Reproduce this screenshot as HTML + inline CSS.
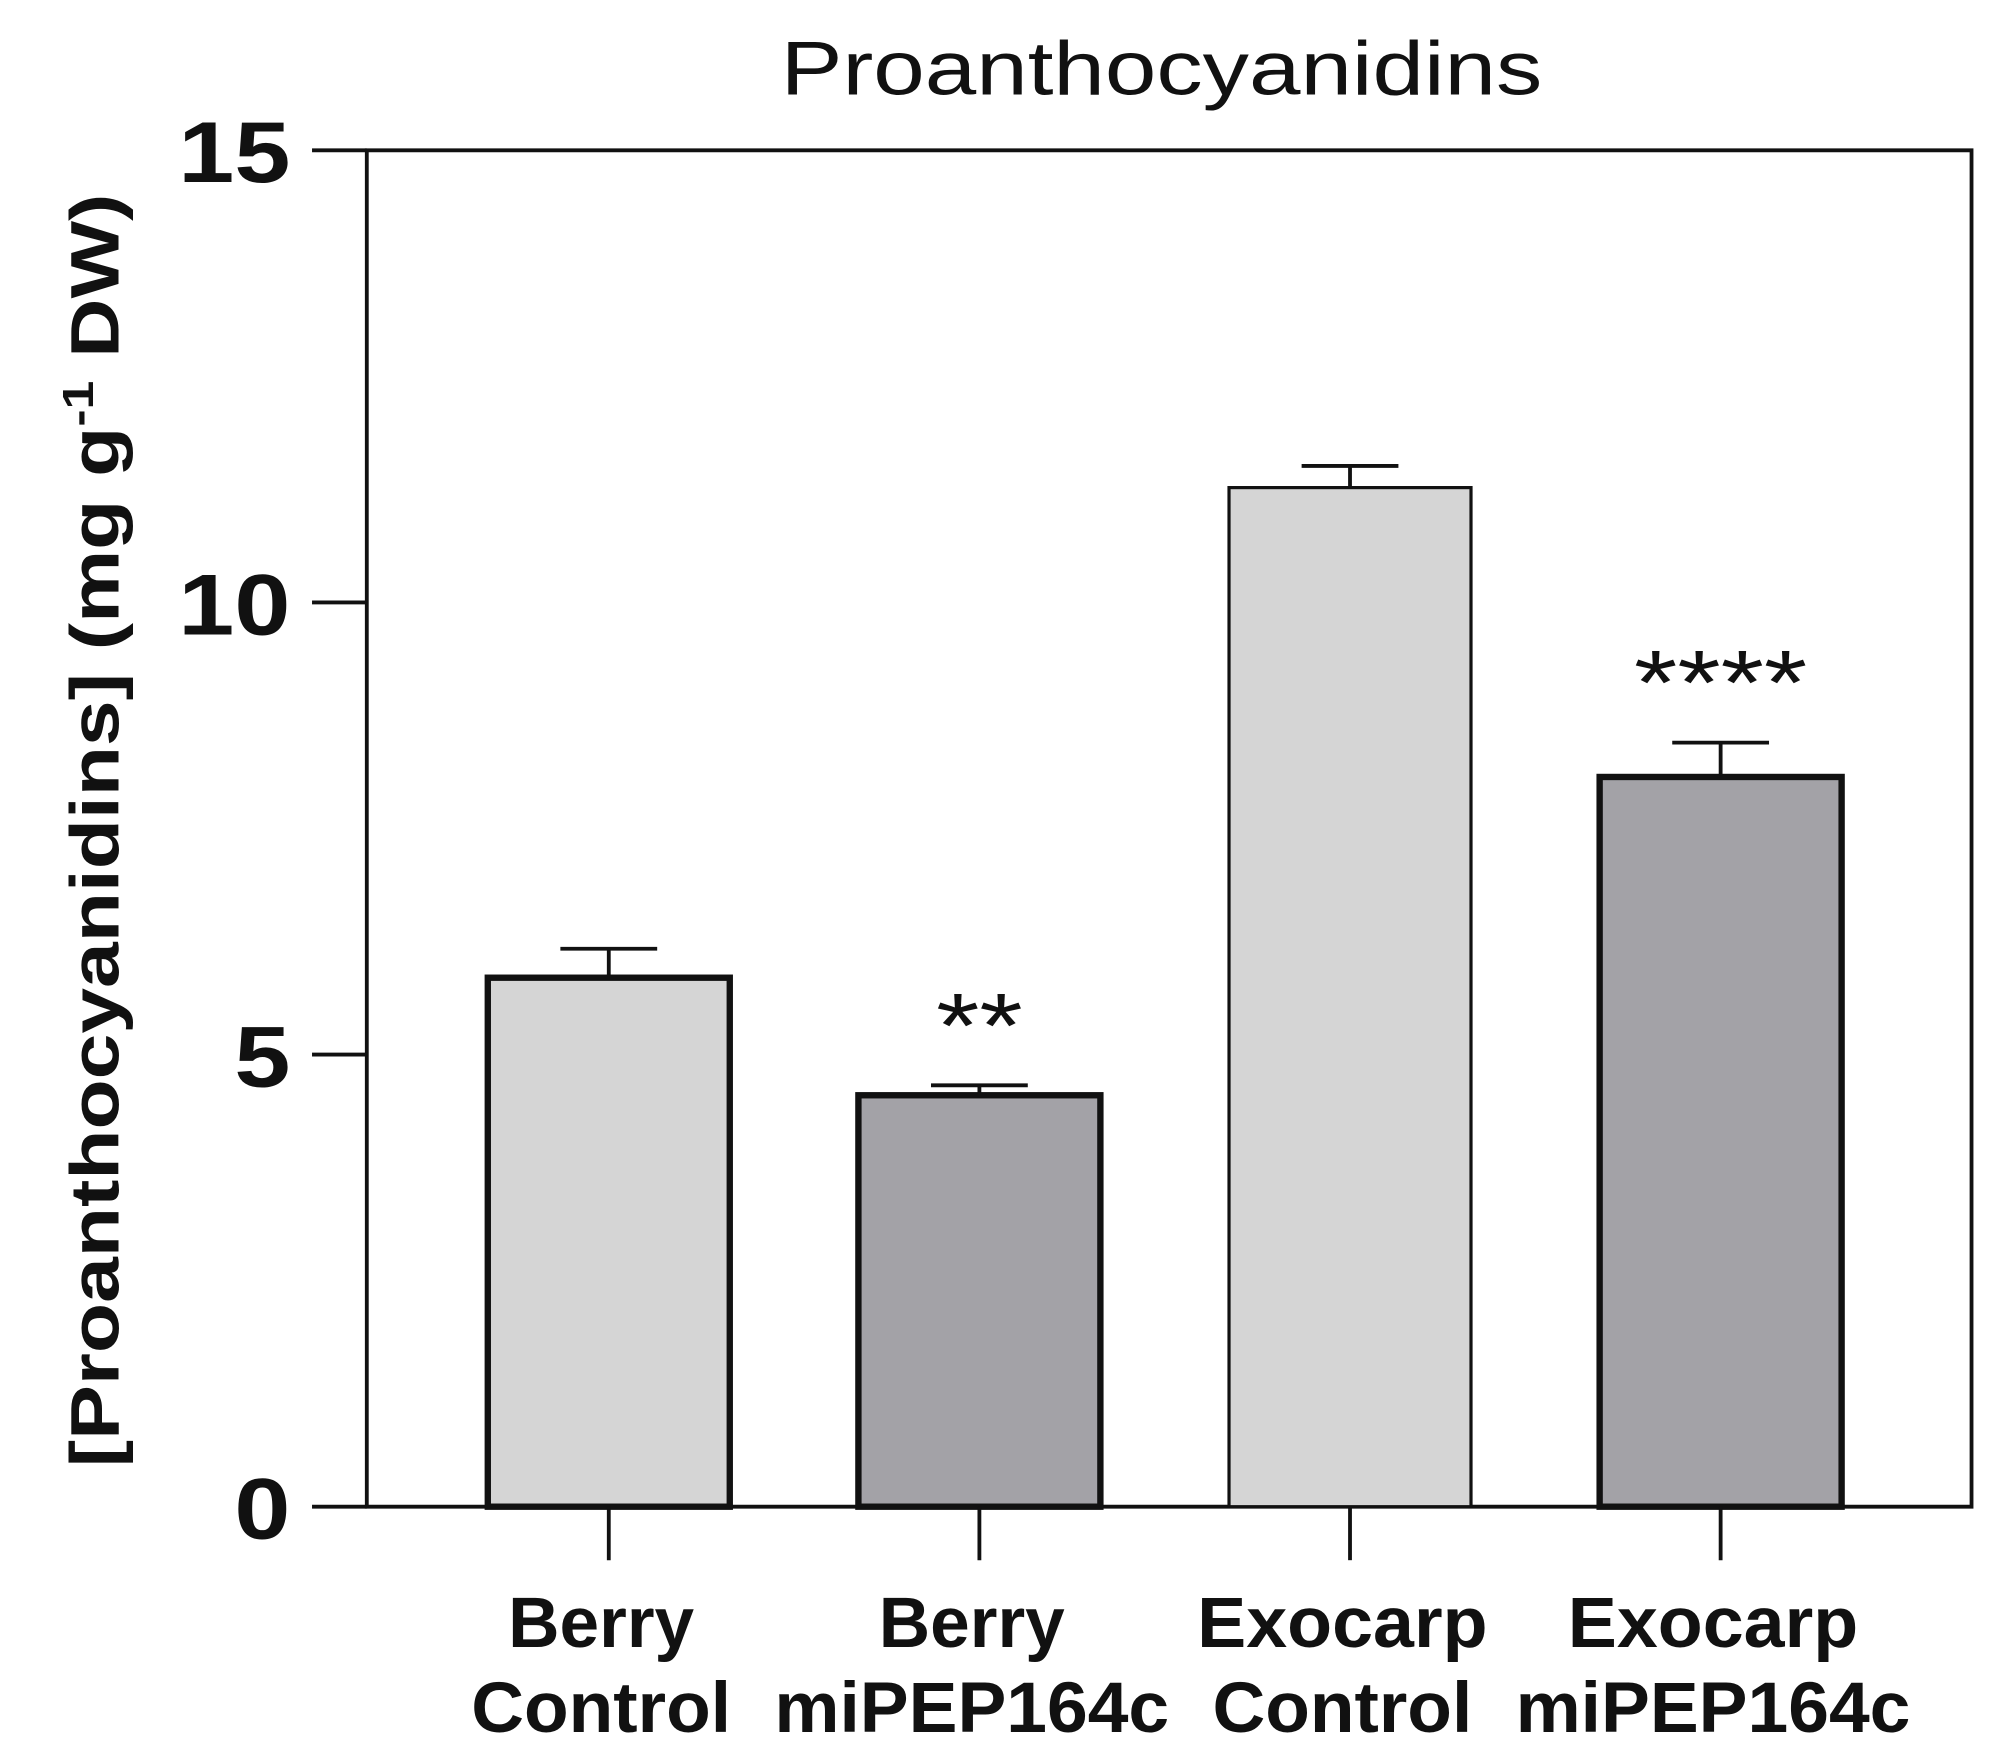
<!DOCTYPE html>
<html><head><meta charset="utf-8"><style>html,body{margin:0;padding:0;background:#fff}svg{display:block}</style></head>
<body>
<svg id="chart" width="1997" height="1764" viewBox="0 0 1568 1385" xmlns="http://www.w3.org/2000/svg" font-family="Liberation Sans, Arial, sans-serif">
<rect width="1568" height="1385" fill="#fff"/>
<text x="912" y="74" font-size="60" text-anchor="middle" fill="#111" textLength="598" lengthAdjust="spacingAndGlyphs">Proanthocyanidins</text>
<text transform="translate(93,652) rotate(-90)" font-size="54" font-weight="bold" text-anchor="middle" fill="#111" textLength="1000" lengthAdjust="spacingAndGlyphs">[Proanthocyanidins] (mg g<tspan dy="-20" font-size="34">-1</tspan><tspan dy="20"> DW)</tspan></text>
<g id="plot"></g>
</svg>
<script>
const categories = [["Berry","Control"],["Berry","miPEP164c"],["Exocarp","Control"],["Exocarp","miPEP164c"]];
const values = [5.85, 4.55, 11.27, 8.07];
const errors = [0.32, 0.11, 0.24, 0.38];
const stars = ["", "**", "", "****"];
const yTicks = [0, 5, 10, 15];
const fills = ["#d5d5d5", "#a3a2a7", "#d5d5d5", "#a3a2a7"];
const labelWidth = {"Berry":146, "Control":204, "Exocarp":228, "miPEP164c":310};

const NS = "http://www.w3.org/2000/svg";
const g = document.getElementById('plot');
const L = 288, R = 1548, T = 118, B = 1183;
const y = v => B - (v / 15) * (B - T);
const xc = i => 478 + i * 291;
const bw = 190;
function mk(tag, attrs, parent) {
  const e = document.createElementNS(NS, tag);
  for (const k in attrs) e.setAttribute(k, attrs[k]);
  (parent || g).appendChild(e);
  return e;
}
const fr = mk('path', {d:`M${L},${B} L${L},${T} L${R},${T} L${R},${B} Z`, fill:'none', stroke:'#111', 'stroke-width':3});


yTicks.forEach(t => {
  const ln = mk('line', {x1:245, x2:L, y1:y(t), y2:y(t), stroke:'#111', 'stroke-width':3});
  
  
  const s = String(t);
  const tx = mk('text', {x:228, y:y(t)+25, 'font-size':68, 'font-weight':'bold', 'text-anchor':'end', fill:'#111', textLength: s.length*44, lengthAdjust:'spacingAndGlyphs'});
  tx.textContent = s;
  
  
});
categories.forEach((c, i) => {
  const x = xc(i);
  const lw = (i === 2) ? 2.5 : 5;
  const eb = mk('path', {d:`M${x},${y(values[i])} L${x},${y(values[i]+errors[i])} M${x-38},${y(values[i]+errors[i])} L${x+38},${y(values[i]+errors[i])}`, stroke:'#111', 'stroke-width':3, fill:'none'});
  
  
  const r = mk('rect', {x:x-bw/2, y:y(values[i]), width:bw, height:B-y(values[i]), fill:fills[i], stroke:'#111', 'stroke-width':lw});
  
  
  if (stars[i]) {
    const s = mk('text', {x:x, y:y(values[i]+errors[i])-22, 'font-size':72, 'text-anchor':'middle', fill:'#111', textLength: stars[i].length*34, lengthAdjust:'spacingAndGlyphs'});
    s.textContent = stars[i];
    
    
  }
  const tk = mk('line', {x1:x, x2:x, y1:B, y2:1225, stroke:'#111', 'stroke-width':3});
  
  
  c.forEach((line, j) => {
    const t = mk('text', {x:x-6, y:1293 + j*67, 'font-size':56, 'font-weight':'bold', 'text-anchor':'middle', fill:'#111', textLength: labelWidth[line] || line.length*32, lengthAdjust:'spacingAndGlyphs'});
    t.textContent = line;
    
    
  });
});
</script>
</body></html>
